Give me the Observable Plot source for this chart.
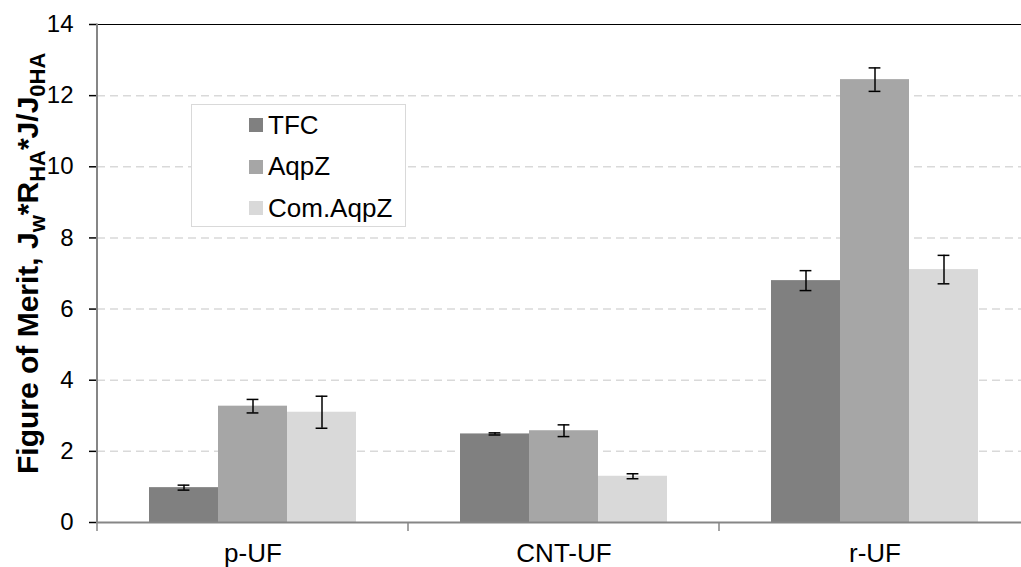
<!DOCTYPE html>
<html>
<head>
<meta charset="utf-8">
<script src="https://cdn.jsdelivr.net/npm/d3@7"></script>
<script src="https://cdn.jsdelivr.net/npm/@observablehq/plot@0.6"></script>
<style>
  html, body { margin: 0; padding: 0; background: #fff; overflow: hidden; }
  body { font-family: "Liberation Sans", Arial, sans-serif; }
  #wrap { position: relative; width: 1021px; height: 567px; }
  #legend {
    position: absolute; left: 191px; top: 104px; width: 215px; height: 123px;
    box-sizing: border-box; border: 1.5px solid #d9d9d9; background: #fff;
  }
  .row { position: absolute; left: 57px; height: 30px; display: flex; align-items: center;
         font-size: 26px; color: #000; white-space: nowrap; }
  .sw { width: 14px; height: 14px; margin-right: 5px; flex: none; }
  [aria-label="y-axis tick"] { stroke: #868686; stroke-width: 1.5px; }
</style>
</head>
<body>
<div id="wrap"></div>
<script>
const groups = ["p-UF", "CNT-UF", "r-UF"];
const series = ["TFC", "AqpZ", "Com.AqpZ"];
const colors = ["#808080", "#a6a6a6", "#d9d9d9"];

const tfc      = [0.98, 2.49, 6.80];
const aqpz     = [3.27, 2.58, 12.45];
const comAqpz  = [3.10, 1.30, 7.11];
const tfcErr     = [0.07, 0.03, 0.28];
const aqpzErr    = [0.19, 0.165, 0.33];
const comAqpzErr = [0.45, 0.07, 0.40];

const yTicks = [0, 2, 4, 6, 8, 10, 12, 14];
const gridTicks = [2, 4, 6, 8, 10, 12];

const vals = [tfc, aqpz, comAqpz];
const errs = [tfcErr, aqpzErr, comAqpzErr];
const data = groups.flatMap((g, i) => series.map((s, j) => ({
  group: g, series: s, value: vals[j][i], err: errs[j][i]
})));

const plot = Plot.plot({
  width: 1021, height: 567,
  marginLeft: 96, marginRight: -10, marginTop: 24, marginBottom: 45,
  style: { fontFamily: "'Liberation Sans', Arial, sans-serif", fontSize: "24px", background: "white", color: "black", overflow: "visible" },
  fx: { domain: groups, padding: 0, label: null },
  x: { domain: series, paddingInner: 0, paddingOuter: 0.75, axis: null },
  y: { domain: [0, 14], label: null, axis: null },
  color: { domain: series, range: colors },
  marks: [
    Plot.ruleY(gridTicks, { stroke: "#d9d9d9", strokeWidth: 1.5, strokeDasharray: "8,5" }),
    Plot.barY(data, { fx: "group", x: "series", y: "value", fill: "series" }),
    Plot.ruleX(data, { fx: "group", x: "series", y1: d => d.value - d.err, y2: d => d.value + d.err, stroke: "black", strokeWidth: 1.5 }),
    Plot.tickY(data, { fx: "group", x: "series", y: d => d.value + d.err, stroke: "black", strokeWidth: 1.5, insetLeft: 28.6, insetRight: 28.6 }),
    Plot.tickY(data, { fx: "group", x: "series", y: d => d.value - d.err, stroke: "black", strokeWidth: 1.5, insetLeft: 28.6, insetRight: 28.6 }),
    Plot.ruleY([0], { stroke: "#868686", strokeWidth: 2 }),
    Plot.ruleY([14], { stroke: "#000", strokeWidth: 1.2 }),
    Plot.axisY(yTicks, { tickSize: 8, tickPadding: 16, fontSize: 24, label: null }),
    Plot.axisFx({ anchor: "bottom", tickSize: 0, tickPadding: 21, fontSize: 26, label: null })
  ]
});

document.getElementById("wrap").appendChild(plot);

// axis line and category boundary ticks, placed through the plot's scales
const svg = d3.select(plot.tagName.toLowerCase() === "svg" ? plot : plot.querySelector("svg"));
const fx = plot.scale("fx");
const ys = plot.scale("y");
const y0 = ys.apply(0), y14 = ys.apply(14);
const left = fx.apply(groups[0]);
const bounds = groups.map(g => fx.apply(g)).concat([fx.apply(groups[groups.length - 1]) + fx.bandwidth]);
svg.append("g").selectAll("line").data(bounds).join("line")
  .attr("x1", d => d).attr("x2", d => d)
  .attr("y1", y0).attr("y2", y0 + 9)
  .attr("stroke", "#868686").attr("stroke-width", 1.5);
svg.append("line")
  .attr("x1", left).attr("x2", left).attr("y1", y14 - 0.5).attr("y2", y0 + 1)
  .attr("stroke", "#868686").attr("stroke-width", 2);

// y-axis title with subscripts
const title = svg.append("text")
  .attr("transform", `translate(38,${y0 - 48}) rotate(-90)`)
  .attr("text-anchor", "start")
  .attr("font-weight", "bold").attr("font-size", 30)
  .attr("font-family", "'Liberation Sans', Arial, sans-serif")
  .attr("fill", "#000");
const parts = [
  ["Figure of Merit, J", false], ["w", true], ["*R", false], ["HA", true],
  ["*J/J", false], ["0HA", true]
];
let sub = false;
parts.forEach(([t, s]) => {
  const ts = title.append("tspan").text(t);
  if (s) { ts.attr("font-size", 22).attr("dy", sub ? 0 : 7); }
  else { ts.attr("dy", sub ? -7 : 0); }
  sub = s;
});

// legend
const legend = document.createElement("div");
legend.id = "legend";
series.forEach((s, i) => {
  const row = document.createElement("div");
  row.className = "row";
  row.style.top = (5 + i * 41.5) + "px";
  const sw = document.createElement("span");
  sw.className = "sw";
  sw.style.background = colors[i];
  const tx = document.createElement("span");
  tx.textContent = s;
  row.appendChild(sw); row.appendChild(tx);
  legend.appendChild(row);
});
document.getElementById("wrap").appendChild(legend);
</script>
</body>
</html>
